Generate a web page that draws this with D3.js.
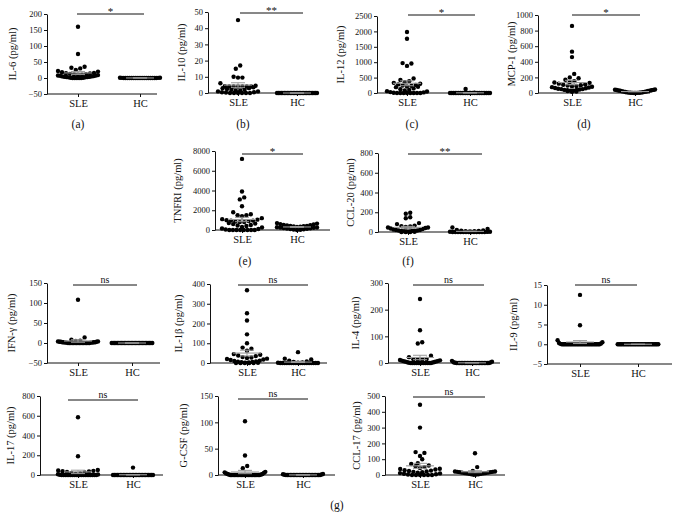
<!DOCTYPE html>
<html><head><meta charset="utf-8">
<script src="https://cdn.jsdelivr.net/npm/d3@7"></script>
<style>body{margin:0;background:#fff}svg{display:block}text{font-family:'Liberation Serif','DejaVu Serif',serif;fill:#111}</style>
</head><body>
<svg id="chart" width="679" height="528"></svg>
<script>
const groups = ["SLE", "HC"];

const il6SLE = [160, 75, 35, 32, 30, 25, 22, 20, 18, 16, 15, 14, 13, 12, 11, 10, 10, 9, 8, 8, 7, 6, 5, 5, 4, 4, 3, 3, 2, 2, 1, 1, 0, 0, 0, 0, 0];
const il6HC = [1, 1, 0.5, 0.5, 0, 0, 0, 0, 0, 0, 0, 0, 0, 0, 0, 0, 0, 0, 0, 0, 0, 0];
const il10SLE = [45, 17, 15, 10, 9.5, 9.5, 6, 4.5, 4.2, 4, 4, 4, 4, 4, 4, 3.5, 3, 3, 2.5, 2, 2, 1.5, 1.5, 1, 1, 0.5, 0.5, 0.3, 0, 0, 0, 0, 0, 0];
const il10HC = [0, 0, 0, 0, 0, 0, 0, 0, 0, 0, 0, 0, 0, 0, 0, 0, 0, 0, 0, 0, 0, 0, 0, 0, 0, 0, 0, 0];
const il12SLE = [1980, 1760, 970, 960, 880, 470, 420, 380, 350, 330, 300, 280, 260, 240, 230, 210, 200, 190, 150, 120, 100, 80, 60, 50, 30, 20, 10, 0, 0, 0, 0, 0, 0, 0, 0];
const il12HC = [130, 10, 5, 0, 0, 0, 0, 0, 0, 0, 0, 0, 0, 0, 0, 0, 0, 0, 0, 0, 0, 0, 0, 0, 0, 0, 0];
const mcp1SLE = [860, 530, 460, 245, 200, 190, 170, 150, 140, 135, 130, 120, 110, 105, 100, 95, 90, 85, 80, 75, 70, 65, 60, 55, 50, 50, 45, 40, 40, 35, 30, 30, 25, 20, 15];
const mcp1HC = [45, 42, 40, 38, 35, 32, 30, 28, 25, 22, 20, 18, 15, 12, 10, 8, 6, 5, 4, 3, 2, 1, 0, 0];
const tnfrSLE = [7200, 3900, 3300, 3100, 2400, 1800, 1600, 1500, 1500, 1400, 1200, 1100, 1050, 1000, 950, 950, 900, 850, 800, 800, 700, 650, 600, 500, 450, 400, 300, 250, 150, 100, 50, 0, 0, 0, 0, 0, 0, 0, 0];
const tnfrHC = [700, 650, 600, 550, 500, 480, 450, 420, 400, 380, 350, 330, 300, 280, 260, 240, 220, 200, 180, 150, 120, 100, 80, 50, 20, 0];
const ccl20SLE = [195, 185, 150, 140, 90, 80, 65, 60, 55, 50, 45, 45, 40, 35, 30, 25, 20, 20, 15, 15, 12, 10, 10, 8, 5, 5, 3, 0, 0, 0];
const ccl20HC = [45, 30, 20, 15, 12, 10, 8, 8, 5, 3, 2, 1, 0, 0, 0, 0, 0, 0, 0, 0, 0, 0, 0, 0, 0];
const ifngSLE = [108, 14, 8, 6, 5, 4, 4, 3, 3, 3, 2, 2, 2, 2, 1, 1, 1, 1, 0, 0, 0, 0, 0, 0, 0, 0, 0, 0, 0, 0, 0, 0, 0, 0];
const ifngHC = [0, 0, 0, 0, 0, 0, 0, 0, 0, 0, 0, 0, 0, 0, 0, 0, 0, 0, 0, 0, 0, 0, 0, 0, 0, 0, 0, 0, 0, 0];
const il1bSLE = [368, 252, 215, 145, 100, 78, 72, 62, 45, 42, 38, 35, 30, 28, 25, 22, 20, 18, 15, 12, 10, 8, 6, 5, 4, 3, 2, 1, 0, 0, 0, 0, 0];
const il1bHC = [55, 22, 18, 12, 8, 5, 3, 2, 1, 0, 0, 0, 0, 0, 0, 0, 0, 0, 0, 0, 0, 0, 0, 0, 0, 0, 0];
const il4SLE = [240, 123, 78, 73, 27, 22, 15, 14, 13, 12, 11, 10, 9, 8, 7, 6, 5, 4, 3, 2, 1, 0, 0, 0, 0, 0, 0, 0, 0, 0, 0, 0, 0];
const il4HC = [8, 5, 3, 2, 1, 0, 0, 0, 0, 0, 0, 0, 0, 0, 0, 0, 0, 0, 0, 0, 0, 0, 0, 0, 0, 0, 0];
const il9SLE = [12.5, 4.8, 1, 0.5, 0.3, 0.2, 0.1, 0, 0, 0, 0, 0, 0, 0, 0, 0, 0, 0, 0, 0, 0, 0, 0, 0, 0, 0, 0, 0, 0, 0, 0, 0, 0, 0, 0];
const il9HC = [0, 0, 0, 0, 0, 0, 0, 0, 0, 0, 0, 0, 0, 0, 0, 0, 0, 0, 0, 0, 0, 0, 0, 0, 0, 0, 0, 0, 0, 0];
const il17SLE = [585, 190, 50, 45, 42, 38, 35, 30, 25, 20, 15, 10, 8, 5, 3, 0, 0, 0, 0, 0, 0, 0, 0, 0, 0, 0, 0, 0, 0, 0, 0, 0, 0, 0, 0];
const il17HC = [75, 0, 0, 0, 0, 0, 0, 0, 0, 0, 0, 0, 0, 0, 0, 0, 0, 0, 0, 0, 0, 0, 0, 0, 0, 0, 0, 0, 0];
const gcsfSLE = [102, 37, 17, 13, 6, 5, 4, 3, 2, 2, 1, 1, 0, 0, 0, 0, 0, 0, 0, 0, 0, 0, 0, 0, 0, 0, 0, 0, 0, 0, 0, 0, 0, 0];
const gcsfHC = [2, 1.5, 1, 0.5, 0, 0, 0, 0, 0, 0, 0, 0, 0, 0, 0, 0, 0, 0, 0, 0, 0, 0, 0, 0, 0, 0, 0, 0];
const ccl17SLE = [445, 300, 145, 140, 120, 100, 75, 70, 60, 55, 50, 45, 40, 38, 35, 30, 28, 25, 22, 20, 18, 15, 12, 10, 8, 5, 3, 0, 0, 0, 0, 0, 0];
const ccl17HC = [138, 50, 25, 22, 22, 20, 20, 18, 18, 15, 15, 12, 12, 10, 10, 8, 8, 5, 5, 3, 2];

const il6Ticks = [-50, 0, 50, 100, 150, 200];
const il10Ticks = [0, 10, 20, 30, 40, 50];
const il12Ticks = [0, 500, 1000, 1500, 2000, 2500];
const mcp1Ticks = [0, 200, 400, 600, 800, 1000];
const tnfrTicks = [0, 2000, 4000, 6000, 8000];
const ccl20Ticks = [0, 200, 400, 600, 800];
const ifngTicks = [-50, 0, 50, 100, 150];
const il1bTicks = [0, 100, 200, 300, 400];
const il4Ticks = [0, 100, 200, 300];
const il9Ticks = [-5, 0, 5, 10, 15];
const il17Ticks = [0, 200, 400, 600, 800];
const gcsfTicks = [0, 50, 100, 150];
const ccl17Ticks = [0, 100, 200, 300, 400, 500];

const yLabels = ["IL-6 (pg/ml)", "IL-10 (pg/ml)", "IL-12 (pg/ml)", "MCP-1 (pg/ml)", "TNFRI (pg/ml)", "CCL-20 (pg/ml)",
  "IFN-γ (pg/ml)", "IL-1β (pg/ml)", "IL-4 (pg/ml)", "IL-9 (pg/ml)", "IL-17 (pg/ml)", "G-CSF (pg/ml)", "CCL-17 (pg/ml)"];
const sigLabels = ["*", "**", "*", "*", "*", "**", "ns", "ns", "ns", "ns", "ns", "ns", "ns"];
const panelLetters = ["(a)", "(b)", "(c)", "(d)", "(e)", "(f)", "", "", "", "", "", "", ""];
const figLetter = "(g)";

const dataSets = [
  [il6SLE, il6HC, il6Ticks], [il10SLE, il10HC, il10Ticks], [il12SLE, il12HC, il12Ticks], [mcp1SLE, mcp1HC, mcp1Ticks],
  [tnfrSLE, tnfrHC, tnfrTicks], [ccl20SLE, ccl20HC, ccl20Ticks],
  [ifngSLE, ifngHC, ifngTicks], [il1bSLE, il1bHC, il1bTicks], [il4SLE, il4HC, il4Ticks], [il9SLE, il9HC, il9Ticks],
  [il17SLE, il17HC, il17Ticks], [gcsfSLE, gcsfHC, gcsfTicks], [ccl17SLE, ccl17HC, ccl17Ticks]
];

// layout: axis left x, axis right x, top y, bottom y, SLE x, HC x, sig line x1,x2,y, ylabel offset
const layout = [
  [47, 157, 14, 94, 78, 140, 77, 144, 14, 33],
  [208, 313, 12, 93, 238, 297, 240, 303, 13, 25],
  [377, 490, 16, 93, 407, 470, 408, 475, 15, 35],
  [538, 650, 15, 93, 572, 635, 572, 640, 15, 25],
  [215, 330, 151, 230, 242, 297, 242, 303, 154, 36],
  [378, 490, 153, 232, 408, 470, 408, 482, 154, 26],
  [47, 160, 283, 363, 78, 132, 73, 137, 285, 34],
  [210, 327, 284, 363, 247, 298, 238, 308, 285, 30],
  [388, 500, 283, 363, 420, 472, 413, 484, 285, 31],
  [547, 672, 285, 364, 580, 638, 575, 637, 285, 32],
  [40, 163, 396, 475, 78, 133, 68, 138, 400, 28],
  [218, 335, 396, 475, 245, 303, 238, 308, 399, 33],
  [385, 505, 396, 475, 420, 475, 413, 485, 397, 27]
];
const letterPos = [[78, 125], [243, 125], [412, 125], [584, 125], [245, 262], [408, 262]];
const figLetterPos = [337, 506];

const FONT = "'Liberation Serif','DejaVu Serif',serif";
const svg = d3.select("#chart");
const R = 2.2;

function swarm(values, cx, y) {
  const pts = values.map(v => ({ v, y: y(v) })).sort((a, b) => a.y - b.y);
  const rows = [];
  let cur = null;
  for (const p of pts) {
    if (!cur || p.y - cur[0].y > 4) { cur = [p]; rows.push(cur); } else cur.push(p);
  }
  rows.forEach(row => {
    const n = row.length;
    const s = n > 1 ? Math.max(1.4, Math.min(4.4, 40 / (n - 1))) : 0;
    const asc = row.slice().reverse();
    const shift = n % 2 === 0 ? s / 2 : 0;
    asc.forEach((p, i) => {
      const k = Math.ceil(i / 2) * (i % 2 ? 1 : -1);
      p.x = cx + k * s - shift;
    });
  });
  return pts;
}

dataSets.forEach((ds, i) => {
  const [sle, hc, ticks] = ds;
  const [L, Rt, T, B, xs, xh, s1, s2, sy, yo] = layout[i];
  const g = svg.append("g");
  const y = d3.scaleLinear().domain(d3.extent(ticks)).range([B, T]);
  const x = d3.scaleOrdinal().domain(groups).range([xs, xh]);

  // y axis
  const ya = g.append("g").attr("transform", `translate(${L},0)`)
    .call(d3.axisLeft(y).tickValues(ticks).tickSize(3).tickSizeOuter(0).tickPadding(2)
      .tickFormat(d => d < 0 ? "\u2212" + Math.abs(d) : String(d)));
  ya.attr("font-family", FONT).attr("font-size", 8.5);
  ya.selectAll("text").style("font-size", "8.5px").style("font-family", FONT);
  ya.selectAll("path,line").attr("stroke", "#111");

  // x axis
  g.append("line").attr("x1", L).attr("x2", Rt).attr("y1", B).attr("y2", B).attr("stroke", "#111");
  const xa = g.append("g").attr("transform", `translate(0,${B})`)
    .call(d3.axisBottom(x).tickSize(3).tickPadding(3));
  xa.attr("font-family", FONT).attr("font-size", 10.5);
  xa.select(".domain").remove();
  xa.selectAll("line").attr("stroke", "#111");
  xa.selectAll("text").style("font-size", "10.5px").style("font-family", FONT);

  // y label
  g.append("text").attr("transform", `translate(${L - yo},${(T + B) / 2}) rotate(-90)`)
    .attr("text-anchor", "middle").attr("dominant-baseline", "middle")
    .style("font-size", "10.5px").text(yLabels[i]);

  // dots
  [[sle, "SLE"], [hc, "HC"]].forEach(([vals, grp]) => {
    const pts = swarm(vals, x(grp), y);
    g.append("g").selectAll("circle").data(pts).join("circle")
      .attr("cx", d => d.x).attr("cy", d => d.y).attr("r", R).attr("fill", "#000");
    const m = d3.mean(vals), se = d3.deviation(vals) / Math.sqrt(vals.length);
    const cx = x(grp);
    const lo = Math.max(y.domain()[0], m - se);
    g.append("line").attr("x1", cx - 14).attr("x2", cx + 14).attr("y1", y(m)).attr("y2", y(m))
      .attr("stroke", "#999").attr("stroke-width", 1.1);
    g.append("line").attr("x1", cx - 7).attr("x2", cx + 7).attr("y1", y(m + se)).attr("y2", y(m + se))
      .attr("stroke", "#999").attr("stroke-width", 1);
    g.append("line").attr("x1", cx - 7).attr("x2", cx + 7).attr("y1", y(lo)).attr("y2", y(lo))
      .attr("stroke", "#999").attr("stroke-width", 1);
    g.append("line").attr("x1", cx).attr("x2", cx).attr("y1", y(m + se)).attr("y2", y(lo))
      .attr("stroke", "#999").attr("stroke-width", 1);
  });

  // significance
  g.append("line").attr("x1", s1).attr("x2", s2).attr("y1", sy).attr("y2", sy).attr("stroke", "#111");
  g.append("text").attr("x", (s1 + s2) / 2).attr("y", sigLabels[i] === "ns" ? sy - 2 : sy + 1)
    .attr("text-anchor", "middle").style("font-size", sigLabels[i] === "ns" ? "10px" : "11px").text(sigLabels[i]);

  if (panelLetters[i]) {
    g.append("text").attr("x", letterPos[i][0]).attr("y", letterPos[i][1]).attr("text-anchor", "middle")
      .attr("dominant-baseline", "middle").style("font-size", "11.5px").text(panelLetters[i]);
  }
});
svg.append("text").attr("x", figLetterPos[0]).attr("y", figLetterPos[1]).attr("text-anchor", "middle")
  .attr("dominant-baseline", "middle").style("font-size", "11.5px").text(figLetter);
</script>
</body></html>
